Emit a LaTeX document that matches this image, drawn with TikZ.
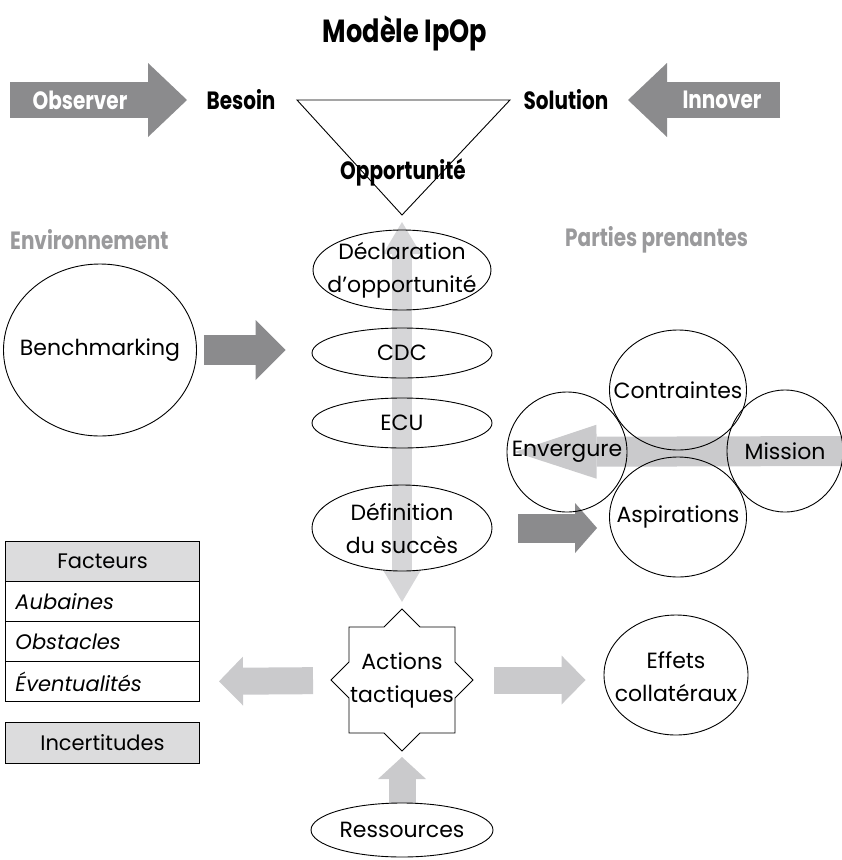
\documentclass[tikz,border=0pt]{standalone}
\usepackage{fontspec}
\setmainfont{Poppins}
\newfontfamily\headfont[FakeStretch=0.8]{Poppins}
\usetikzlibrary{arrows.meta,shapes.geometric,backgrounds}

\definecolor{darkarrow}{HTML}{8B8B8D}
\definecolor{lightarrow}{HTML}{CACACC}
\definecolor{paleaxis}{HTML}{D6D6D8}
\definecolor{labelgray}{HTML}{9A9A9C}
\definecolor{cellgray}{HTML}{DCDCDD}

\begin{document}
\begin{tikzpicture}[x=1pt,y=-1pt,
  body/.style={font=\fontsize{22}{33}\selectfont, align=center, inner sep=0pt},
  head/.style={font=\headfont\bfseries\fontsize{25}{28}\selectfont, inner sep=0pt},
  oval/.style 2 args={draw, ellipse, line width=0.9pt, inner sep=0pt,
    minimum width=#1, minimum height=#2},
  cell/.style={draw, line width=1pt, font=\fontsize{21}{32}\selectfont, anchor=north west,
    minimum height=40pt, text width=174pt, inner xsep=10pt, inner ysep=0pt},
  fatarrow/.style n args={5}{draw=#1, line width=#2,
    -{Triangle[length=#3, width=#4, line width=0pt]}, shorten >=#5},
]
\useasboundingbox (0,0) rectangle (842,860);

% ---- title and top row
\node[font=\headfont\bfseries\fontsize{32}{34}\selectfont] (title) at (405,33) {Modèle IpOp};
\node[head] (besoin) at (241,100) {Besoin};
\node[head] (solution) at (566,100) {Solution};
\node[head] (opp) at (403,172) {Opportunité};
\node[head, text=white] (obs) at (80,100) {Observer};
\node[head, text=white] (inno) at (722,100) {Innover};
\coordinate (obsbase) at (10,100);
\coordinate (innbase) at (780,100);

% the IpOp triangle
\coordinate (tl) at (297,100);
\coordinate (tr) at (510,100);
\coordinate (ttip) at (402,215);
\draw[line width=0.9pt] (tl) -- (tr) -- (ttip) -- cycle;

\node[head, text=labelgray, anchor=west] (envlabel) at (10,240) {Environnement};
\node[head, text=labelgray, anchor=west] (pplabel) at (565,240) {Parties prenantes};

% ---- central column
\node[oval={178pt}{80pt}, label={[body]center:Déclaration\\d’opportunité}] (decl) at (402,270) {};
\node[oval={180pt}{50pt}, label={[body]center:CDC}] (cdc) at (402,353) {};
\node[oval={180pt}{50pt}, label={[body]center:ECU}] (ecu) at (402,423) {};
\node[oval={180pt}{86pt}, label={[body]center:Définition\\du succès}] (defs) at (402,528) {};

\node[body] (act) at (402,680) {Actions\\tactiques};
\draw[line width=0.9pt, shift={(act.center)}]
  (0,-71) -- (18,-53) -- (53,-53) -- (53,-18) -- (71,0) -- (53,18) -- (53,53)
  -- (18,53) -- (0,71) -- (-18,53) -- (-53,53) -- (-53,18) -- (-71,0)
  -- (-53,-18) -- (-53,-53) -- (-18,-53) -- cycle;

\node[oval={182pt}{54pt}, label={[body]center:Ressources}] (ress) at (402,830) {};

% ---- left side
\node[oval={193pt}{172pt}, label={[body]center:Benchmarking}] (bench) at (100,350) {};

\node[cell, fill=cellgray, align=center] (fact) at (5,541) {Facteurs};
\node[cell, align=left] (rowaub) at (5,581) {\itshape Aubaines};
\node[cell, align=left] (rowobs) at (5,621) {\itshape Obstacles};
\node[cell, align=left] (rowevt) at (5,661) {\itshape Éventualités};
\node[cell, fill=cellgray, align=center, minimum height=41pt] (incert) at (5,722) {Incertitudes};

% ---- stakeholders
\node[oval={137pt}{120pt}, label={[body]center:Contraintes}] (contr) at (678,390) {};
\node[oval={120pt}{120pt}, label={[body]center:Envergure}] (enverg) at (567,452) {};
\node[oval={116pt}{122pt}, label={[body]center:Mission}] (mission) at (785,451) {};
\node[oval={137pt}{120pt}, label={[body]center:Aspirations}] (aspir) at (678,517) {};
\coordinate (edge) at (842,451);

\node[oval={144pt}{120pt}, label={[body, yshift=-2pt]center:Effets\\collatéraux}] (effets) at (676,675) {};

% ---- block arrows, behind everything
\begin{scope}[on background layer]
  \draw[fatarrow={darkarrow}{36pt}{39pt}{74pt}{54pt}] (obsbase) -- (besoin.center);
  \draw[fatarrow={darkarrow}{36pt}{39pt}{74pt}{62pt}] (innbase) -- (solution.center);

  \draw[draw=paleaxis, line width=20pt,
    {Triangle[length=32pt, width=38pt, line width=0pt]}-{Triangle[length=32pt, width=38pt, line width=0pt]},
    shorten <=7pt, shorten >=78pt] (ttip) -- (act.center);

  \draw[fatarrow={darkarrow}{30pt}{30pt}{60pt}{26pt}, shorten <=7pt]
    (bench.east) -- (bench.east -| cdc.west);
  \draw[fatarrow={darkarrow}{29pt}{22pt}{50pt}{12pt}, shorten <=26pt]
    (defs.east) -- (defs.east -| aspir.west);

  \draw[fatarrow={lightarrow}{30pt}{82pt}{54pt}{8pt}] (edge) -- (enverg.west);

  \draw[fatarrow={lightarrow}{27pt}{24pt}{49pt}{19pt}, shorten <=89pt]
    (act.center) -- (rowevt.east);
  \draw[fatarrow={lightarrow}{27pt}{24pt}{49pt}{18pt}, shorten <=92pt]
    (act.center) -- (act.center -| effets.west);
  \draw[fatarrow={lightarrow}{27pt}{22pt}{48pt}{77pt}] (ress.north) -- (act.center);
\end{scope}
\end{tikzpicture}
\end{document}
